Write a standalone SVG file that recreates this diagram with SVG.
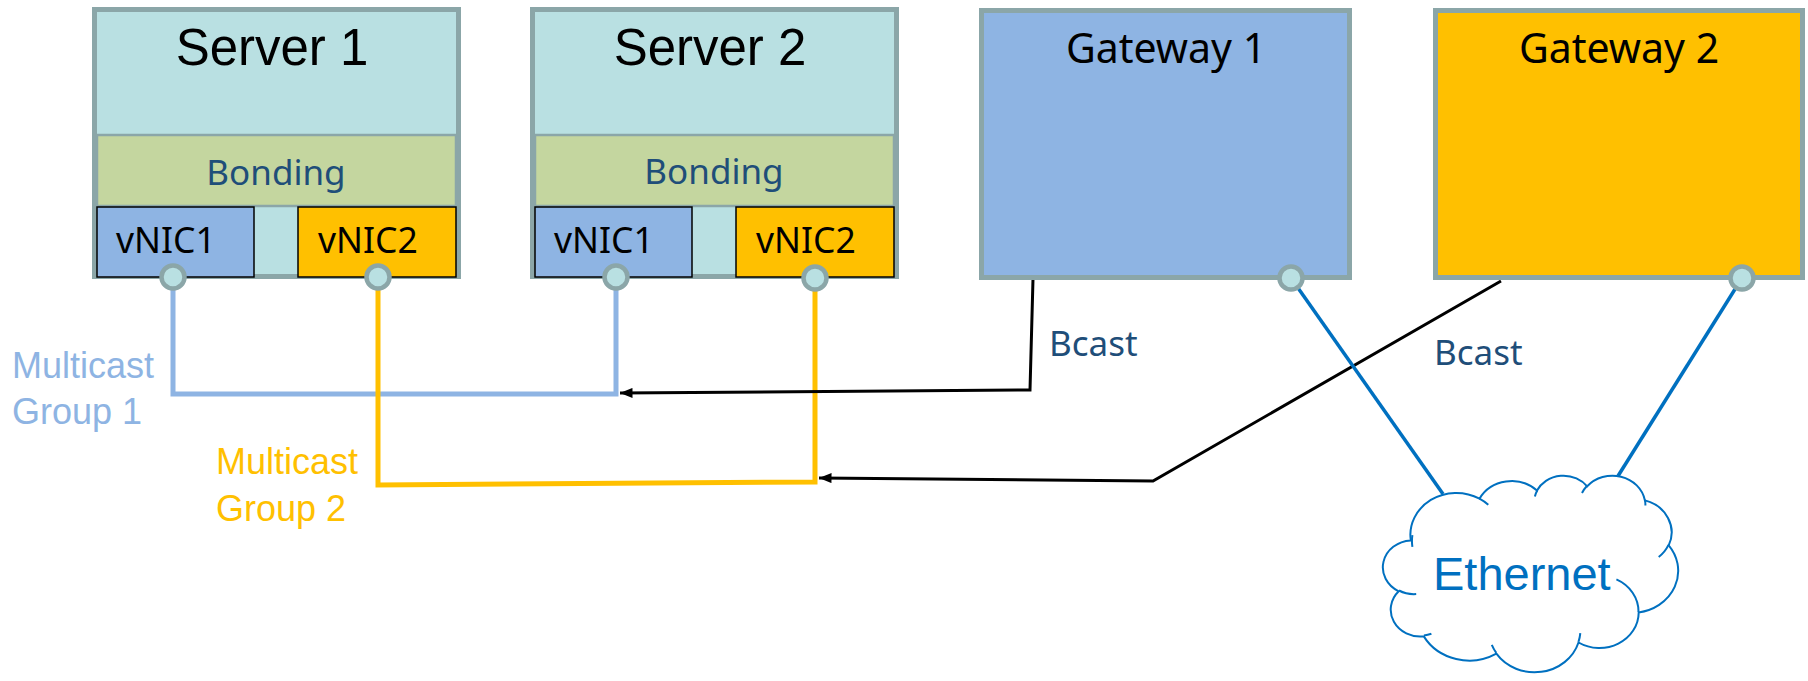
<svg xmlns="http://www.w3.org/2000/svg" width="1808" height="681" viewBox="0 0 1808 681">
<defs>
<style>
.srv{fill:#b9e0e2;stroke:#8ba6a8;stroke-width:5}
.band{fill:#c4d69f;stroke:#8ba6a8;stroke-width:2.5}
.nic1{fill:#8eb4e3;stroke:#000;stroke-width:1.5}
.nic2{fill:#ffc000;stroke:#000;stroke-width:1.5}
.gw1{fill:#8eb4e3;stroke:#8ba6a8;stroke-width:5}
.gw2{fill:#ffc000;stroke:#8ba6a8;stroke-width:5}
.port{fill:#b9e0e2;stroke:#8ba6a8;stroke-width:4.5}
.title{font-family:"Liberation Sans",Arial,sans-serif;font-size:51px;fill:#000;text-anchor:middle}
.cal{font-family:"Noto Sans","Open Sans",sans-serif}
.bond{font-size:35px;fill:#1f4e79;text-anchor:middle}
.nic{font-size:35.5px;fill:#000}
.gwt{font-size:41px;fill:#000;text-anchor:middle}
.bcast{font-size:35px;fill:#1f4e79}
.mc{font-family:"Liberation Sans",Arial,sans-serif;font-size:36px}
.g1{stroke:#8eb4e3;stroke-width:5;fill:none}
.g2{stroke:#ffc000;stroke-width:5;fill:none}
.bc{stroke:#000;stroke-width:3;fill:none}
.eth{stroke:#0070c0;stroke-width:3.5;fill:none}
.cloud{fill:#fff;stroke:#0070c0;stroke-width:2}
.tail{fill:none;stroke:#0070c0;stroke-width:2}
</style>
<marker id="arr" viewBox="0 0 10 8" refX="10" refY="4" markerWidth="13" markerHeight="10" markerUnits="userSpaceOnUse" orient="auto">
<path d="M0,0 L10,4 L0,8 z" fill="#000"/>
</marker>
</defs>

<g id="connectors">
<path class="g1" d="M173,278 V394 H616 V278"/>
<path class="g2" d="M378,278 V485 L815,482 V278"/>
<path class="bc" d="M1033,279 L1030,390 L620,393" marker-end="url(#arr)"/>
<path class="bc" d="M1501,281 L1153,481 L819,478" marker-end="url(#arr)"/>
<path class="eth" d="M1291,278 L1443,494"/>
<path class="eth" d="M1742,278 L1618,476"/>
</g>

<g id="server1">
<rect class="srv" x="94.5" y="9.5" width="364" height="267"/>
<rect class="band" x="97" y="135" width="359" height="71"/>
<rect class="nic1" x="97" y="207" width="157" height="70"/>
<rect class="nic2" x="298" y="207" width="158" height="70"/>
<text class="title" x="272" y="65">Server 1</text>
<text class="cal bond" x="276" y="185">Bonding</text>
<text class="cal nic" x="116" y="253">vNIC1</text>
<text class="cal nic" x="318" y="253">vNIC2</text>
<circle class="port" cx="173" cy="277" r="11.5"/>
<circle class="port" cx="378" cy="277" r="11.5"/>
</g>

<g id="server2">
<rect class="srv" x="532.5" y="9.5" width="364" height="267"/>
<rect class="band" x="535" y="135" width="359" height="71"/>
<rect class="nic1" x="535" y="207" width="157" height="70"/>
<rect class="nic2" x="736" y="207" width="158" height="70"/>
<text class="title" x="710" y="65">Server 2</text>
<text class="cal bond" x="714" y="184">Bonding</text>
<text class="cal nic" x="554" y="253">vNIC1</text>
<text class="cal nic" x="756" y="253">vNIC2</text>
<circle class="port" cx="616" cy="277" r="11.5"/>
<circle class="port" cx="815" cy="278" r="11.5"/>
</g>

<g id="gateway1">
<rect class="gw1" x="981.5" y="10.5" width="368" height="267"/>
<text class="cal gwt" x="1166" y="63">Gateway 1</text>
<circle class="port" cx="1291" cy="278" r="11.5"/>
</g>

<g id="gateway2">
<rect class="gw2" x="1435.5" y="10.5" width="367" height="267"/>
<text class="cal gwt" x="1619" y="63">Gateway 2</text>
<circle class="port" cx="1742" cy="278" r="11.5"/>
</g>

<g id="ethernet">
<path class="cloud" d="M1410.8,540.4 A45.9,41.8 0 0 1 1479.5,498.7 A36.3,33.1 0 0 1 1537.0,490.6 A29.7,27.0 0 0 1 1587.2,486.3 A33.0,30.0 0 0 1 1644.9,500.4 A36.3,33.1 0 0 1 1668.7,545.3 A46.1,42.0 0 0 1 1638.7,612.4 A39.3,35.8 0 0 1 1578.5,642.5 A45.9,41.9 0 0 1 1496.4,653.7 A52.5,48.0 0 0 1 1423.8,636.4 A29.6,26.9 0 0 1 1398.7,591.3 A29.5,27.0 0 0 1 1410.8,540.4 Z"/>
<path class="tail" d="M1416.2,594.1 A29.5,27.0 0 0 1 1399.0,590.5 M1431.4,633.8 A29.6,26.9 0 0 1 1423.9,635.5 M1496.3,652.9 A45.9,41.9 0 0 1 1491.8,644.9 M1580.3,633.1 A45.9,41.9 0 0 1 1578.5,641.8 M1616.4,579.4 A39.3,35.8 0 0 1 1638.5,611.9 M1668.5,544.9 A36.3,33.1 0 0 1 1658.7,557.0 M1644.9,499.7 A33.0,30.0 0 0 1 1645.4,505.4 M1582.0,493.0 A33.0,30.0 0 0 1 1587.1,485.7 M1534.9,496.5 A29.7,27.0 0 0 1 1537.3,490.2 M1479.5,498.6 A45.9,41.8 0 0 1 1488.3,504.8 M1412.4,546.8 A45.9,41.8 0 0 1 1412.4,535.1"/>
<text x="1433" y="590" font-family="Liberation Sans, Arial, sans-serif" font-size="47" fill="#0070c0">Ethernet</text>
</g>

<g id="labels">
<text class="cal bcast" x="1049" y="356">Bcast</text>
<text class="cal bcast" x="1434" y="365">Bcast</text>
<text class="mc" x="12" y="378" fill="#8eb4e3">Multicast</text>
<text class="mc" x="12" y="424" fill="#8eb4e3">Group 1</text>
<text class="mc" x="216" y="474" fill="#ffc000">Multicast</text>
<text class="mc" x="216" y="521" fill="#ffc000">Group 2</text>
</g>
</svg>
